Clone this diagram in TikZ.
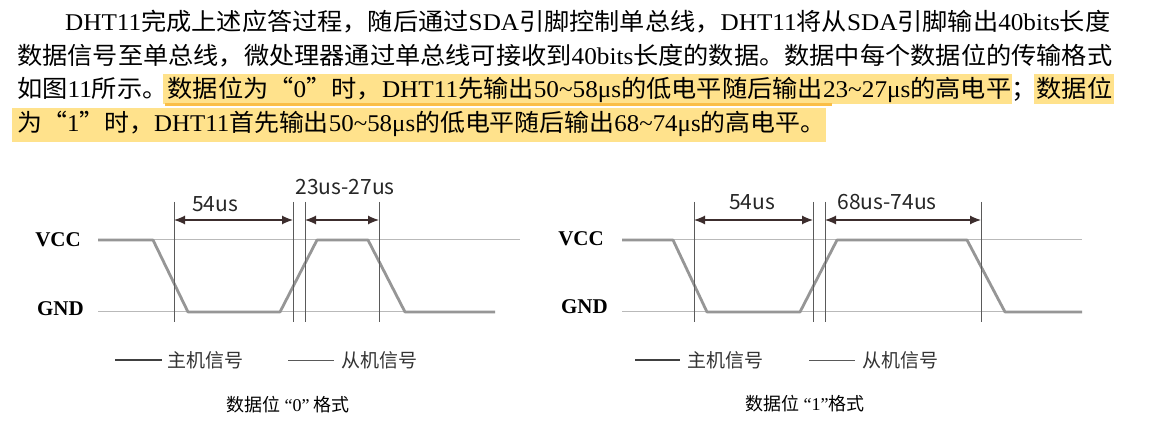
\documentclass[tikz,border=0pt]{standalone}
\usepackage{fontspec}
\usepackage{graphicx}
\setmainfont{Noto Sans CJK SC}
\newfontfamily\lat{Liberation Serif}
\newfontfamily\cjk{Noto Sans CJK SC}
\usetikzlibrary{arrows.meta}
\definecolor{hl}{RGB}{255,226,140}
\definecolor{ul}{RGB}{250,190,70}
\definecolor{sig}{RGB}{150,150,150}
\definecolor{refl}{RGB}{185,185,185}
\definecolor{vl}{RGB}{90,90,90}
\definecolor{arr}{RGB}{60,45,45}
\newcommand{\fitw}[2]{\resizebox{#1}{\height}{#2}}
\begin{document}
\begin{tikzpicture}[x=1pt,y=-1pt,
  para/.style={anchor=west,inner sep=0pt,font=\fontsize{24}{24}\selectfont},
  sigl/.style={draw=sig,line width=2.8pt,line join=round},
  ref/.style={draw=refl,line width=1pt},
  vline/.style={draw=vl,line width=0.9pt},
  dim/.style={draw=arr,line width=1.2pt,{Latex[length=11pt,width=9pt]}-{Latex[length=11pt,width=9pt]}},
  lbl/.style={inner sep=0pt,font=\fontsize{21}{21}\selectfont,text=black!85},
  lvl/.style={anchor=east,inner sep=0pt,font=\lat\bfseries\fontsize{21}{21}\selectfont},
  leg/.style={anchor=west,inner sep=0pt,font=\fontsize{19}{19}\selectfont,text=black!80},
  captn/.style={inner sep=0pt,font=\fontsize{18}{18}\selectfont}]
\useasboundingbox (0,0) rectangle (1156,443);
\fill[white] (0,0) rectangle (1156,443);
% highlights
\fill[hl] (163,74) rectangle (1012,104);
\fill[hl] (1034,74) rectangle (1114,104);
\fill[hl] (12,108) rectangle (826,142);
\fill[ul] (165,103) rectangle (832,106.5);
% paragraph
\node[para] (l1) at (65,22) {\fitw{1045pt}{{\lat DHT11}完成上述应答过程，随后通过{\lat SDA}引脚控制单总线，{\lat DHT11}将从{\lat SDA}引脚输出{\lat 40bits}长度}};
\node[para] (l2) at (17,56) {\fitw{1095pt}{数据信号至单总线，微处理器通过单总线可接收到{\lat 40bits}长度的数据。数据中每个数据位的传输格式}};
\node[para] (l3) at (17,90) {\fitw{1095pt}{如图{\lat 11}所示。数据位为“{\lat 0}”时，{\lat DHT11}先输出{\lat 50\textasciitilde58μs}的低电平随后输出{\lat 23\textasciitilde27μs}的高电平；数据位}};
\node[para] (l4) at (17,124) {\fitw{808pt}{为“{\lat 1}”时，{\lat DHT11}首先输出{\lat 50\textasciitilde58μs}的低电平随后输出{\lat 68\textasciitilde74μs}的高电平。}};
% ---------- diagram 0
\draw[ref] (98,240) -- (520,240);
\draw[ref] (98,312) -- (495,312);
\draw[sigl] (98,240) -- (153,240) -- (188,312) -- (280,312) -- (317,240) -- (368,240) -- (405,312) -- (495,312);
\coordinate (a1t) at (174,202); \coordinate (a1b) at (174,322);
\coordinate (a2t) at (293,202); \coordinate (a2b) at (293,322);
\coordinate (a3t) at (305,202); \coordinate (a3b) at (305,322);
\coordinate (a4t) at (379,202); \coordinate (a4b) at (379,322);
\draw[vline] (a1t) -- (a1b); \draw[vline] (a2t) -- (a2b);
\draw[vline] (a3t) -- (a3b); \draw[vline] (a4t) -- (a4b);
\coordinate (d1a) at (174,220); \coordinate (d1b) at (293,220);
\coordinate (d2a) at (305,220); \coordinate (d2b) at (379,220);
\draw[dim] (d1a) -- (d1b); \draw[dim] (d2a) -- (d2b);
\node[lbl] (t54a) at (215,204) {54us};
\node[lbl] (t23) at (345,187) {23us-27us};
\node[lvl] (vcc1) at (81,240) {VCC};
\node[lvl] (gnd1) at (84,309) {GND};
\coordinate (la1) at (115,360); \coordinate (la2) at (162,360);
\draw[draw=black!75,line width=2.8pt] (la1) -- (la2);
\node[leg] (lm1) at (167,360) {主机信号};
\coordinate (lb1) at (288,360); \coordinate (lb2) at (334,360);
\draw[draw=black!65,line width=0.8pt] (lb1) -- (lb2);
\node[leg] (ls1) at (341,360) {从机信号};
\node[captn] (c1) at (288,405) {数据位 {\lat “0”} 格式};
% ---------- diagram 1
\draw[ref] (622,240) -- (1082,240);
\draw[ref] (622,312) -- (1082,312);
\draw[sigl] (622,240) -- (673,240) -- (707,312) -- (800,312) -- (837,240) -- (967,240) -- (1005,312) -- (1082,312);
\coordinate (b1t) at (694,202); \coordinate (b1b) at (694,322);
\coordinate (b2t) at (813,202); \coordinate (b2b) at (813,322);
\coordinate (b3t) at (825,202); \coordinate (b3b) at (825,322);
\coordinate (b4t) at (981,202); \coordinate (b4b) at (981,322);
\draw[vline] (b1t) -- (b1b); \draw[vline] (b2t) -- (b2b);
\draw[vline] (b3t) -- (b3b); \draw[vline] (b4t) -- (b4b);
\coordinate (e1a) at (694,220); \coordinate (e1b) at (813,220);
\coordinate (e2a) at (825,220); \coordinate (e2b) at (981,220);
\draw[dim] (e1a) -- (e1b); \draw[dim] (e2a) -- (e2b);
\node[lbl] (t54b) at (752,202) {54us};
\node[lbl] (t68) at (887,202) {68us-74us};
\node[lvl] (vcc2) at (604,239) {VCC};
\node[lvl] (gnd2) at (608,307) {GND};
\coordinate (lc1) at (635,360); \coordinate (lc2) at (680,360);
\draw[draw=black!75,line width=2.8pt] (lc1) -- (lc2);
\node[leg] (lm2) at (687,360) {主机信号};
\coordinate (ld1) at (809,360); \coordinate (ld2) at (855,360);
\draw[draw=black!65,line width=0.8pt] (ld1) -- (ld2);
\node[leg] (ls2) at (862,360) {从机信号};
\node[captn] (c2) at (805,404) {数据位 {\lat “1”}格式};
\end{tikzpicture}
\end{document}
